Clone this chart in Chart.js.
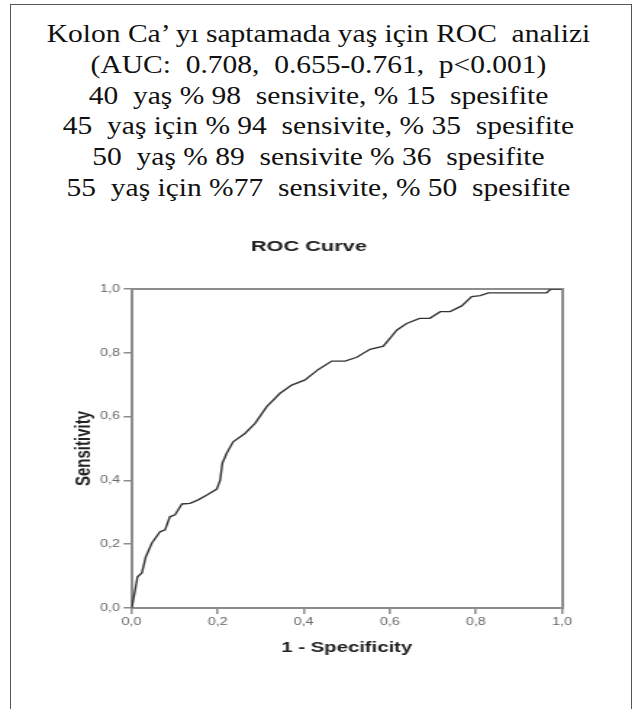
<!DOCTYPE html>
<html>
<head>
<meta charset="utf-8">
<script src="https://cdn.jsdelivr.net/npm/chart.js@4.4.1/dist/chart.umd.min.js"></script>
<style>
  html, body { margin: 0; padding: 0; background: #fff; width: 637px; height: 709px; overflow: hidden; }
  #frame { position: absolute; left: 10px; top: 4px; width: 620px; height: 760px; border: 1.5px solid #555; }
  #heading {
    position: absolute; left: 0; top: 19px; width: 637px; text-align: center;
    font-family: 'Liberation Serif', 'Times New Roman', serif; font-size: 25px; line-height: 30.8px;
    color: #111; transform: scaleX(1.18); transform-origin: center top;
  }
  #heading div { white-space: pre; height: 30.8px; }
  #chartBox { position: absolute; left: 0; top: 225px; transform: scaleX(1.45); transform-origin: 0 0; }
</style>
</head>
<body>
<div id="frame"></div>
<div id="heading"><div>Kolon Ca’ yı saptamada yaş için ROC  analizi</div><div>(AUC:  0.708,  0.655-0.761,  p&lt;0.001)</div><div>40  yaş % 98  sensivite, % 15  spesifite</div><div>45  yaş için % 94  sensivite, % 35  spesifite</div><div>50  yaş % 89  sensivite % 36  spesifite</div><div>55  yaş için %77  sensivite, % 50  spesifite</div></div>
<div id="chartBox"><canvas id="roc" width="439" height="440"></canvas></div>
<script>
// ROC egrisi, resimden okunan noktalar (1 - spesifite, sensitivite)
const rocFpr = [0, 0.002, 0.007, 0.014, 0.024, 0.033, 0.047, 0.066, 0.078, 0.089, 0.101, 0.117, 0.136,
  0.155, 0.175, 0.198, 0.206, 0.211, 0.221, 0.236, 0.264, 0.287, 0.314, 0.345, 0.372, 0.403, 0.434,
  0.465, 0.496, 0.523, 0.554, 0.585, 0.616, 0.639, 0.669, 0.693, 0.717, 0.740, 0.767, 0.790, 0.810,
  0.829, 0.964, 0.974, 1.0];
const rocTpr = [0, 0.010, 0.046, 0.098, 0.110, 0.160, 0.203, 0.239, 0.245, 0.286, 0.292, 0.326, 0.328,
  0.339, 0.354, 0.373, 0.401, 0.454, 0.485, 0.521, 0.548, 0.579, 0.631, 0.673, 0.699, 0.715, 0.748,
  0.774, 0.774, 0.786, 0.811, 0.821, 0.871, 0.892, 0.908, 0.908, 0.929, 0.929, 0.947, 0.976, 0.979,
  0.988, 0.988, 1.0, 1.0];
const tickLabels = ['0,0', '0,2', '0,4', '0,6', '0,8', '1,0'];

const points = rocFpr.map((x, i) => ({ x: x, y: rocTpr[i] }));

const axisGray = '#8c8c8c';
const fontFam = "'Liberation Sans', Arial, sans-serif";

new Chart(document.getElementById('roc'), {
  type: 'scatter',
  data: {
    datasets: [{
      data: points,
      showLine: true,
      borderColor: '#333',
      borderWidth: 1.4,
      pointRadius: 0,
      fill: false,
      tension: 0
    }]
  },
  options: {
    responsive: false,
    animation: false,
    devicePixelRatio: 1,
    layout: { padding: { left: 0, right: 13, top: 0, bottom: 7 } },
    plugins: {
      legend: { display: false },
      tooltip: { enabled: false },
      title: {
        display: true,
        text: 'ROC Curve',
        color: '#222',
        font: { family: fontFam, size: 15, weight: 'bold' },
        padding: { top: 13, bottom: 33 }
      }
    },
    scales: {
      x: {
        type: 'linear',
        position: 'bottom',
        min: 0,
        max: 1,
        ticks: {
          stepSize: 0.2,
          color: '#666',
          font: { family: fontFam, size: 10 },
          padding: 2,
          maxRotation: 0,
          autoSkip: false,
          callback: (v, i) => tickLabels[i]
        },
        grid: { drawOnChartArea: false, drawTicks: true, tickLength: 6, color: axisGray, lineWidth: 1.5 },
        border: { color: axisGray, width: 2 },
        title: {
          display: true,
          text: '1 - Specificity',
          color: '#222',
          font: { family: fontFam, size: 14, weight: 'bold' },
          padding: { top: 0, bottom: 1.6 }
        },
        afterFit: s => { s.height = 50; }
      },
      y: {
        type: 'linear',
        position: 'left',
        min: 0,
        max: 1,
        ticks: {
          stepSize: 0.2,
          color: '#666',
          font: { family: fontFam, size: 10 },
          padding: 2.4,
          callback: (v, i) => tickLabels[i]
        },
        grid: { drawOnChartArea: false, drawTicks: true, tickLength: 5.5, color: axisGray, lineWidth: 1.5 },
        border: { color: axisGray, width: 2 },
        title: {
          display: true,
          text: 'Sensitivity',
          color: '#222',
          font: { family: fontFam, size: 15, weight: 'bold' },
          padding: { top: 48.6, bottom: 0 }
        },
        afterFit: s => { s.width = 90.7; }
      },
      x2: {
        type: 'linear',
        position: 'top',
        min: 0,
        max: 1,
        ticks: { display: false },
        grid: { display: false },
        border: { color: axisGray, width: 2 },
        afterFit: s => { s.height = 0; }
      },
      y2: {
        type: 'linear',
        position: 'right',
        min: 0,
        max: 1,
        ticks: { display: false },
        grid: { display: false },
        border: { color: axisGray, width: 2 },
        afterFit: s => { s.width = 38.4; }
      }
    }
  }
});
</script>
</body>
</html>
